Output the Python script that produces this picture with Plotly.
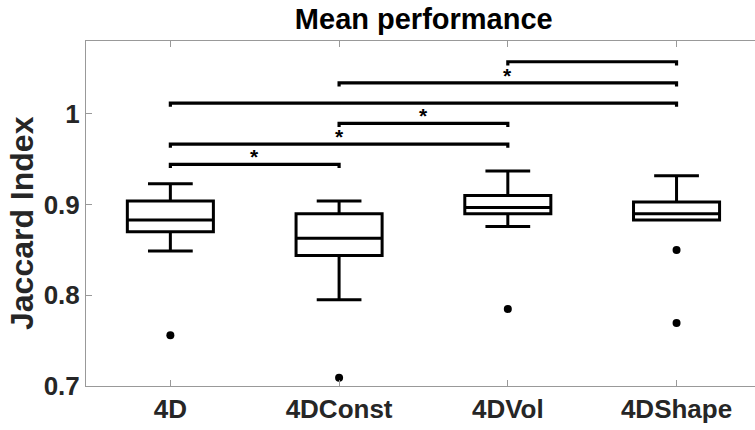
import plotly.graph_objects as go

categories = ["4D", "4DConst", "4DVol", "4DShape"]
upper_whisker = [0.923, 0.904, 0.937, 0.932]
q3 = [0.904, 0.890, 0.910, 0.903]
median = [0.883, 0.863, 0.897, 0.890]
q1 = [0.870, 0.844, 0.890, 0.883]
lower_whisker = [0.849, 0.795, 0.876, 0.883]
outlier_group = [1, 2, 3, 4, 4]
outlier_value = [0.756, 0.709, 0.785, 0.850, 0.7695]

# significance brackets: (group a, group b, height, significant)
bracket_a = [1, 1, 2, 1, 2, 3]
bracket_b = [2, 3, 3, 4, 4, 4]
bracket_h = [0.9444, 0.9668, 0.9896, 1.012, 1.0344, 1.0576]
bracket_sig = [True, True, True, False, True, False]

xs = list(range(1, len(categories) + 1))
fig = go.Figure()

for i, x in enumerate(xs):
    fig.add_trace(go.Box(
        x=[x], q1=[q1[i]], median=[median[i]], q3=[q3[i]],
        lowerfence=[lower_whisker[i]], upperfence=[upper_whisker[i]],
        width=0.51, whiskerwidth=0.52,
        fillcolor="white", line=dict(color="black", width=3),
        boxpoints=False, showlegend=False, hoverinfo="skip",
    ))

fig.add_trace(go.Scatter(
    x=outlier_group, y=outlier_value, mode="markers",
    marker=dict(color="black", size=8), showlegend=False, hoverinfo="skip",
))

hook = 0.004
for a, b, h, s in zip(bracket_a, bracket_b, bracket_h, bracket_sig):
    fig.add_trace(go.Scatter(
        x=[a, a, b, b], y=[h - hook, h, h, h - hook], mode="lines",
        line=dict(color="black", width=3.2), showlegend=False, hoverinfo="skip",
    ))
    if s:
        fig.add_annotation(
            x=(a + b) / 2, y=h, text="<b>*</b>", showarrow=False,
            yanchor="bottom", yshift=-6, font=dict(size=21, color="black",
                                                  family="Liberation Sans, Arial"),
        )

fig.add_annotation(
    xref="paper", yref="paper", x=-64 / 669, y=(386 - 223) / 345,
    xanchor="center", yanchor="middle", textangle=-90, showarrow=False,
    text="<b>Jaccard Index</b>", font=dict(size=32, color="#262626"),
)

fig.update_layout(
    width=755, height=430,
    margin=dict(l=86, r=0, t=41, b=44),
    plot_bgcolor="white", paper_bgcolor="white",
    font=dict(family="Liberation Sans, Arial, sans-serif", color="#262626"),
    title=dict(text="<b>Mean performance</b>", x=0.5613, xanchor="center",
               y=1 - 19 / 430, yanchor="middle",
               font=dict(size=29, color="black")),
    xaxis=dict(
        range=[0.5, 4.465], tickvals=xs, ticktext=[f"<b>{c}</b>" for c in categories],
        ticks="inside", ticklen=6, tickcolor="#999999", tickwidth=1,
        showline=True, linecolor="#999999", linewidth=1, mirror="ticks",
        showgrid=False, zeroline=False, tickfont=dict(size=26, color="#262626"),
    ),
    yaxis=dict(
        range=[0.7, 1.0805], tickvals=[0.7, 0.8, 0.9, 1.0],
        ticktext=["<b>0.7</b>", "<b>0.8</b>", "<b>0.9</b>", "<b>1</b>"],
        ticks="inside", ticklen=6, tickcolor="#999999", tickwidth=1,
        showline=True, linecolor="#999999", linewidth=1, mirror=False,
        showgrid=False, zeroline=False, tickfont=dict(size=26, color="#262626"),
    ),
)

fig.write_html("out.html")
